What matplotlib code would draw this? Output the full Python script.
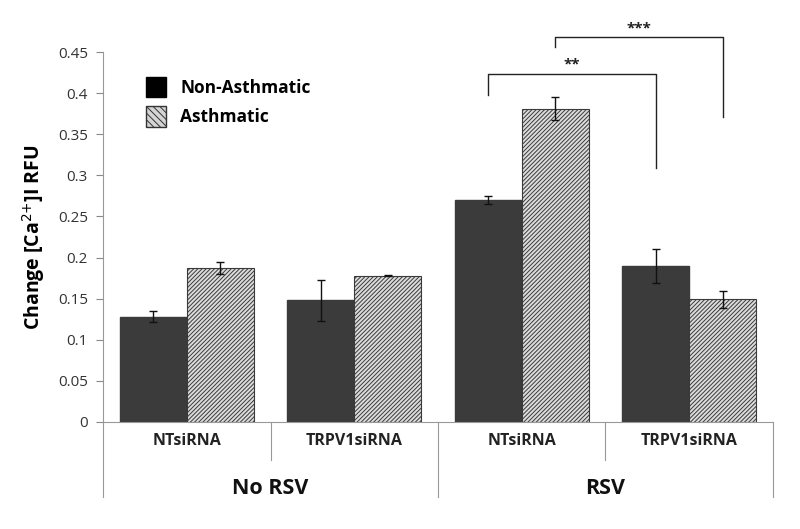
import matplotlib
matplotlib.use("Agg")
from matplotlib import pyplot as plt
from matplotlib.patches import Patch
import matplotlib.transforms as mtransforms
import numpy as np

# data
categories = ["NTsiRNA", "TRPV1siRNA", "NTsiRNA", "TRPV1siRNA"]
groups = ["No RSV", "RSV"]
non_asthmatic = [0.128, 0.148, 0.270, 0.190]
non_asthmatic_err = [0.007, 0.025, 0.005, 0.021]
asthmatic = [0.187, 0.178, 0.381, 0.149]
asthmatic_err = [0.007, 0.001, 0.014, 0.010]
y_ticks = [0, 0.05, 0.1, 0.15, 0.2, 0.25, 0.3, 0.35, 0.4, 0.45]
y_tick_labels = ["0", "0.05", "0.1", "0.15", "0.2", "0.25", "0.3", "0.35", "0.4", "0.45"]

plt.rcParams['font.family'] = ['Open Sans', 'DejaVu Sans']
plt.rcParams['hatch.linewidth'] = 0.7

fig = plt.figure(figsize=(8, 5.29), dpi=100)
ax = fig.add_axes([0.129, 0.2023, 0.837, 0.6994])

x = np.arange(len(categories))
w = 0.4
ax.bar(x - w / 2, non_asthmatic, w, color='#3b3b3b', edgecolor='#3b3b3b',
       yerr=non_asthmatic_err, capsize=3, error_kw=dict(elinewidth=1, ecolor='#111111', capthick=1))
ax.bar(x + w / 2, asthmatic, w, color='#dcdcdc', edgecolor='#3a3a3a', linewidth=0.8,
       hatch='////////', yerr=asthmatic_err, capsize=3,
       error_kw=dict(elinewidth=1, ecolor='#111111', capthick=1))

ax.set_xlim(-0.5, 3.5)
ax.set_ylim(0, 0.45)
ax.set_yticks(y_ticks)
ax.set_yticklabels(y_tick_labels, fontsize=11, color='#333333')
ax.tick_params(axis='y', length=5, color='#888888', pad=6)
ax.set_xticks(x)
ax.set_xticklabels(categories, fontsize=11.5, fontweight='bold', color='#222222')
ax.tick_params(axis='x', length=0, pad=8)

for s in ['top', 'right']:
    ax.spines[s].set_visible(False)
for s in ['left', 'bottom']:
    ax.spines[s].set_color('#999999')

ax.set_ylabel("Change [Ca$^{2{+}}$]I RFU", fontsize=14, fontweight='bold', labelpad=8)

# category dividers and group labels below the axis
trans = mtransforms.blended_transform_factory(ax.transData, ax.transAxes)
for xv in [0.5, 2.5]:
    ax.plot([xv, xv], [0, -0.103], transform=trans, color='#999999', lw=0.8, clip_on=False)
for xv in [-0.5, 1.5, 3.5]:
    ax.plot([xv, xv], [0, -0.203], transform=trans, color='#999999', lw=0.8, clip_on=False)
for gi, g in enumerate(groups):
    ax.text(0.5 + 2 * gi, -0.18, g, transform=trans, ha='center', va='center',
            fontsize=15.5, fontweight='bold', color='#111111')

# significance brackets
def bracket(x1, x2, ytop, yl, yr, label, ystar):
    ax.plot([x1, x1, x2, x2], [yl, ytop, ytop, yr], color='#222222', lw=1, clip_on=False)
    ax.text((x1 + x2) / 2, ystar, label, ha='center', va='center', fontsize=11,
            fontweight='bold', color='#222222', clip_on=False)

bracket(2 - w / 2, 3 - w / 2, 0.423, 0.398, 0.309, "**", 0.435)
bracket(2 + w / 2, 3 + w / 2, 0.468, 0.456, 0.371, "***", 0.479)

handles = [Patch(facecolor='black', edgecolor='black'),
           Patch(facecolor='#d4d4d4', edgecolor='#333333', hatch='\\\\\\\\\\')]
ax.legend(handles, ["Non-Asthmatic", "Asthmatic"], loc='upper left',
          bbox_to_anchor=(0.04, 0.975), frameon=False, handlelength=1.2,
          handleheight=1.4, handletextpad=0.8, labelspacing=0.55,
          prop=dict(size=12.5, weight='bold'))

fig.savefig("out.png", dpi=100)
